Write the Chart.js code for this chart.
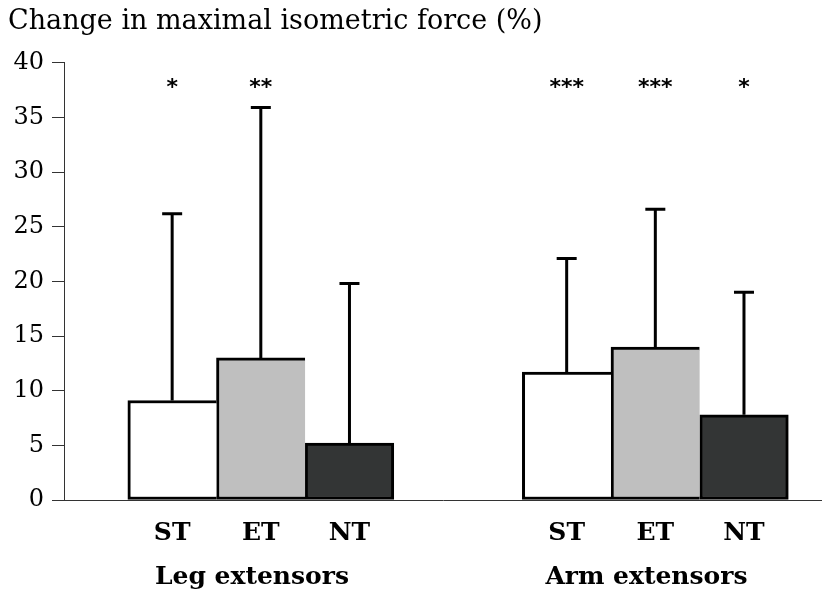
<!DOCTYPE html>
<html>
<head>
<meta charset="utf-8">
<script src="https://cdn.jsdelivr.net/npm/chart.js@4"></script>
<style>
  body { margin: 0; background: #fff; }
  #wrap { width: 822px; height: 589px; }
</style>
</head>
<body>
<div id="wrap"><canvas id="myChart"></canvas></div>
<script>
const groups = ["Leg extensors", "Arm extensors"];
const conditions = ["ST", "ET", "NT"];
// mean change per condition, [leg, arm]
const stChange = [9.1, 11.7];
const etChange = [13.0, 14.0];
const ntChange = [5.2, 7.8];
// upper error bar length
const stErr = [17.1, 10.4];
const etErr = [22.9, 12.6];
const ntErr = [14.6, 11.2];
// significance marks
const stStars = ["*", "***"];
const etStars = ["**", "***"];
const ntStars = ["", "*"];

const fillColors = ["#ffffff", "#bfbfbf", "#333535"];
const groupStep = 4.45;
const serif = "'DejaVu Serif', serif";

// slot of each bar on the x axis (1 bar width = 1 unit)
function slot(g, c) {
  return g * groupStep + c + 1;
}

function series(values, c) {
  return values.map((v, g) => ({ x: slot(g, c), y: v }));
}

const means = [stChange, etChange, ntChange];
const errs = [stErr, etErr, ntErr];
const stars = [stStars, etStars, ntStars];

const barTicks = groups.flatMap((_, g) => conditions.map((_, c) => slot(g, c)));
const groupTicks = groups.map((_, g) => slot(g, 0.9));

const errorBars = {
  id: "errorBars",
  afterDatasetsDraw(chart) {
    const ctx = chart.ctx;
    const yScale = chart.scales.y;
    ctx.save();
    chart.data.datasets.forEach((ds, i) => {
      const meta = chart.getDatasetMeta(i);
      meta.data.forEach((bar, g) => {
        const top = yScale.getPixelForValue(means[i][g] + errs[i][g]);
        ctx.strokeStyle = "#000";
        ctx.lineWidth = 3;
        ctx.beginPath();
        ctx.moveTo(bar.x, bar.y);
        ctx.lineTo(bar.x, top);
        ctx.moveTo(bar.x - 10, top);
        ctx.lineTo(bar.x + 10, top);
        ctx.stroke();

        const mark = stars[i][g];
        if (mark) {
          ctx.fillStyle = "#000";
          ctx.font = "bold 22px 'DejaVu Sans', sans-serif";
          ctx.textAlign = "center";
          ctx.textBaseline = "middle";
          ctx.fillText(mark, bar.x, yScale.getPixelForValue(37.7));
        }
      });
    });
    ctx.restore();
  },
};

const ctx = document.getElementById("myChart");

new Chart(ctx, {
  type: "bar",
  data: {
    datasets: conditions.map((name, c) => ({
      label: name,
      data: series(means[c], c),
      backgroundColor: fillColors[c],
      borderColor: "#000",
      borderSkipped: false,
      borderWidth: c === 2
        ? 3
        : { top: 3, left: 3, bottom: 3, right: 0 },
      grouped: false,
      barPercentage: 1,
      categoryPercentage: 1,
    })),
  },
  options: {
    responsive: true,
    maintainAspectRatio: false,
    animation: false,
    layout: { padding: { left: 8, right: 0, top: 0, bottom: 0 } },
    plugins: {
      legend: { display: false },
      tooltip: { enabled: false },
      title: {
        display: true,
        text: "Change in maximal isometric force (%)",
        align: "start",
        color: "#000",
        font: { family: serif, size: 27, weight: "normal" },
        padding: { top: 6, bottom: 24.4 },
      },
    },
    scales: {
      x: {
        type: "linear",
        min: -0.22,
        max: 8.33,
        offset: false,
        grid: { display: false, drawTicks: false, offset: false },
        border: { display: true, color: "#333", width: 1 },
        afterBuildTicks: (axis) => {
          axis.ticks = barTicks.map((v) => ({ value: v }));
        },
        ticks: {
          autoSkip: false,
          maxRotation: 0,
          padding: 20.5,
          color: "#000",
          font: { family: serif, size: 25, weight: "bold", lineHeight: 1 },
          callback: (value, index) => conditions[index % conditions.length],
        },
      },
      x2: {
        type: "linear",
        position: "bottom",
        min: -0.22,
        max: 8.33,
        offset: false,
        grid: { display: false, drawTicks: false, offset: false },
        border: { display: false },
        afterBuildTicks: (axis) => {
          axis.ticks = groupTicks.map((v) => ({ value: v }));
        },
        ticks: {
          autoSkip: false,
          maxRotation: 0,
          padding: 1.5,
          color: "#000",
          font: { family: serif, size: 25, weight: "bold", lineHeight: 0.8 },
          callback: (value, index) => groups[index],
        },
      },
      y: {
        min: 0,
        max: 40,
        afterFit: (axis) => {
          axis.width = 56;
        },
        grid: {
          display: true,
          drawOnChartArea: false,
          drawTicks: true,
          tickLength: 12,
          color: "#333",
        },
        border: { display: true, color: "#333", width: 1 },
        ticks: {
          stepSize: 5,
          padding: 8,
          color: "#000",
          font: { family: serif, size: 24, lineHeight: 1 },
        },
      },
    },
  },
  plugins: [errorBars],
});
</script>
</body>
</html>
